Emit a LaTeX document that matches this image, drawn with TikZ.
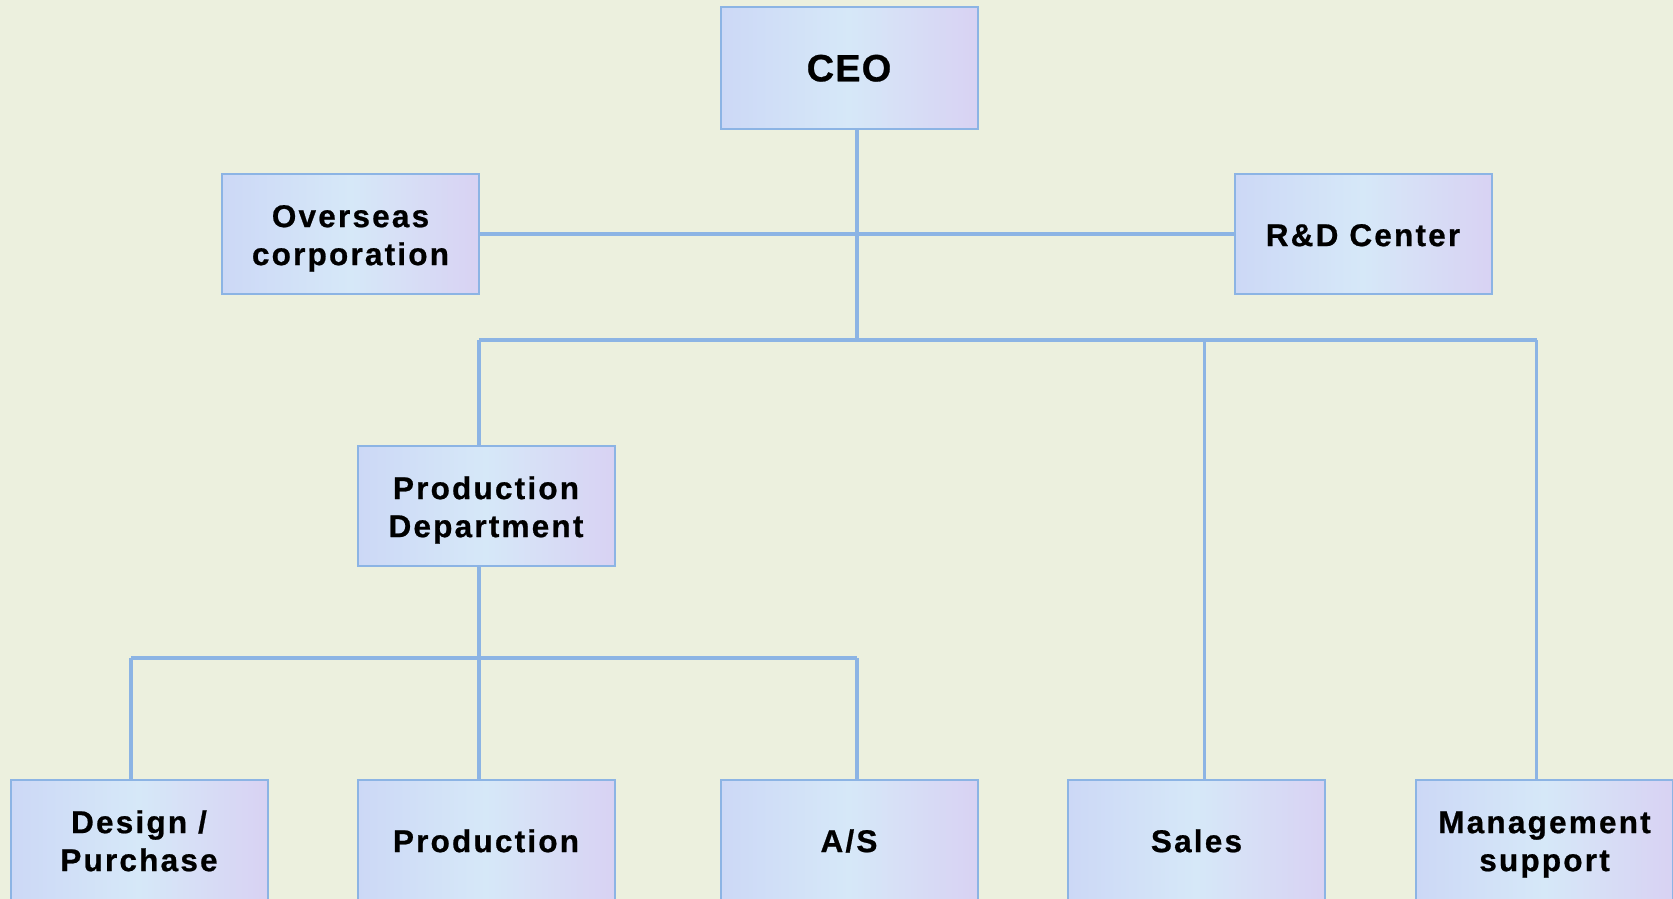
\documentclass[tikz,border=0pt]{standalone}
\usepackage{fontspec}
\setmainfont{Liberation Sans}[LetterSpace=7,BoldFeatures={FakeBold=0.7}]
\definecolor{bgc}{RGB}{236,240,222}
\definecolor{linec}{RGB}{140,180,228}
\definecolor{boxc}{RGB}{204,216,246}
\definecolor{boxd}{RGB}{216,210,243}
\definecolor{boxm}{RGB}{214,232,248}
\begin{document}
\begin{tikzpicture}[x=1pt,y=-1pt,
  orgbox/.style={draw=linec,line width=2pt,left color=boxc,right color=boxd,middle color=boxm,
    minimum width=257pt,minimum height=120pt,inner sep=0pt},
  lbl/.style={inner sep=0pt,align=center,yshift=-4.5pt,
    font=\fontsize{31.5}{38}\selectfont\bfseries},
  link/.style={draw=linec,line width=3.2pt}]
\useasboundingbox[fill=bgc] (0,0) rectangle (1673,899);
\node[orgbox,minimum height=121pt] (ceo) at (849,68) {};
\node[orgbox] (ovs) at (350.5,234) {};
\node[orgbox] (rd) at (1363,234) {};
\node[orgbox] (pd) at (486,506) {};
\node[orgbox] (dp) at (139,840) {};
\node[orgbox] (pr) at (486,840) {};
\node[orgbox] (as) at (849,840) {};
\node[orgbox] (sl) at (1196.5,840) {};
\node[orgbox] (mg) at (1544.5,840) {};
\node[lbl,font=\fontsize{38}{44}\selectfont\addfontfeature{LetterSpace=3}\bfseries] (ceot) at (ceo.center) {\strut CEO};
\node[lbl] (ovst) at (ovs.center) {\strut Overseas\\\strut corporation};
\node[lbl] (rdt) at (rd.center) {\strut R\&D Center};
\node[lbl] (pdt) at (pd.center) {\strut Production\\\strut Department};
\node[lbl] (dpt) at (dp.center) {\strut Design /\\\strut Purchase};
\node[lbl] (prt) at (pr.center) {\strut Production};
\node[lbl] (ast) at (as.center) {\strut A/S};
\node[lbl] (slt) at (sl.center) {\strut Sales};
\node[lbl] (mgt) at (mg.center) {\strut Management\\\strut support};
\coordinate (j1) at (857,340);
\coordinate (jl) at (479,340);
\coordinate (jr) at (1536.5,340);
\coordinate (js) at (1204.6,340);
\coordinate (jp) at (479,658);
\coordinate (jd) at (131,658);
\coordinate (ja) at (857,658);
\path[link] (j1 |- ceo.south) -- (j1);
\path[link] (ovs.east) -- (rd.west);
\path[link] (jl) -- (jr);
\path[link] (jl) -- (jl |- pd.north);
\path[link] (js) -- (js |- sl.north);
\path[link] (jr) -- (jr |- mg.north);
\path[link] (jp |- pd.south) -- (jp);
\path[link] (jd) -- (ja);
\path[link] (jd) -- (jd |- dp.north);
\path[link] (jp) -- (jp |- pr.north);
\path[link] (ja) -- (ja |- as.north);
\end{tikzpicture}
\end{document}
